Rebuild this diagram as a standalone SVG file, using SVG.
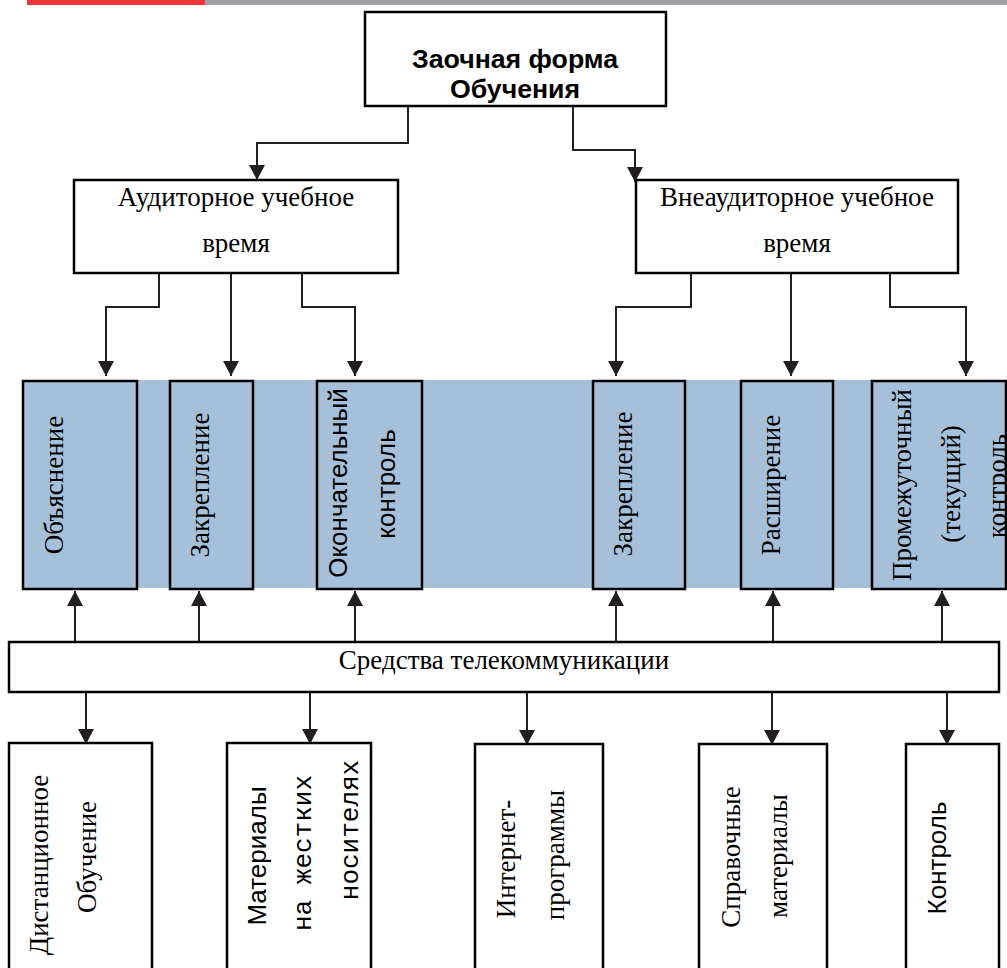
<svg xmlns="http://www.w3.org/2000/svg" width="1007" height="968" viewBox="0 0 1007 968">
<style>
.box{fill:#fff;stroke:#000;stroke-width:2.5}
.blue{fill:#a7c0da;stroke:#000;stroke-width:2.5}
.con{fill:none;stroke:#231f20;stroke-width:2}
.tnr{font-family:"Liberation Serif","Times New Roman",serif;font-size:27px;fill:#000}
.ar{font-family:"Liberation Sans",Arial,sans-serif;font-size:26px;fill:#000}
.arb{font-family:"Liberation Sans",Arial,sans-serif;font-size:26.7px;font-weight:bold;fill:#000}
.mono{font-family:"Liberation Mono","Courier New",monospace;font-size:26px;fill:#000}
</style>
<defs>
<marker id="ah" viewBox="0 0 15 16" refX="15" refY="8" markerWidth="15" markerHeight="16" markerUnits="userSpaceOnUse" orient="auto">
<path d="M0,0 L15,8 L0,16 z" fill="#231f20"/>
</marker>
</defs>
<rect x="0" y="0" width="1007" height="968" fill="#fff"/>
<rect x="205" y="0" width="802" height="5" fill="#a1a1a5"/>
<rect x="27" y="0" width="178" height="5" fill="#ef3538"/>
<rect x="23" y="380" width="984" height="208" fill="#a7c0da"/>

<g id="connectors">
<path class="con" d="M408,106 V143 H257 V180" marker-end="url(#ah)"/>
<path class="con" d="M573,106 V150 H635 V182" marker-end="url(#ah)"/>
<path class="con" d="M159,273 V307 H106 V376" marker-end="url(#ah)"/>
<path class="con" d="M231,273 V376" marker-end="url(#ah)"/>
<path class="con" d="M302,273 V307 H355 V376" marker-end="url(#ah)"/>
<path class="con" d="M691,273 V307 H616 V376" marker-end="url(#ah)"/>
<path class="con" d="M791,273 V376" marker-end="url(#ah)"/>
<path class="con" d="M890,273 V307 H966 V376" marker-end="url(#ah)"/>
<path class="con" d="M75,642 V591" marker-end="url(#ah)"/>
<path class="con" d="M199,642 V591" marker-end="url(#ah)"/>
<path class="con" d="M355,642 V591" marker-end="url(#ah)"/>
<path class="con" d="M616,642 V591" marker-end="url(#ah)"/>
<path class="con" d="M773,642 V591" marker-end="url(#ah)"/>
<path class="con" d="M942,642 V591" marker-end="url(#ah)"/>
<path class="con" d="M86,692 V744" marker-end="url(#ah)"/>
<path class="con" d="M310,692 V744" marker-end="url(#ah)"/>
<path class="con" d="M527,692 V745" marker-end="url(#ah)"/>
<path class="con" d="M772,692 V745" marker-end="url(#ah)"/>
<path class="con" d="M947,692 V745" marker-end="url(#ah)"/>
</g>

<g id="zaochnaya">
<rect class="box" x="365" y="12" width="301" height="94" stroke-width="3"/>
<text class="arb" x="515" y="68" text-anchor="middle">Заочная форма</text>
<text class="arb" x="515" y="98" text-anchor="middle">Обучения</text>
</g>

<g id="auditornoe">
<rect class="box" x="74" y="180" width="324" height="93"/>
<text class="tnr" x="236" y="206" text-anchor="middle">Аудиторное учебное</text>
<text class="tnr" x="236" y="252" text-anchor="middle">время</text>
</g>

<g id="vneauditornoe">
<rect class="box" x="636" y="180" width="322" height="93"/>
<text class="tnr" x="797" y="206" text-anchor="middle">Внеаудиторное учебное</text>
<text class="tnr" x="797" y="252" text-anchor="middle">время</text>
</g>

<g id="obyasnenie">
<rect class="blue" x="23" y="381" width="114" height="208"/>
<text class="tnr" transform="translate(63,485) rotate(-90)" text-anchor="middle">Объяснение</text>
</g>
<g id="zakreplenie1">
<rect class="blue" x="170" y="381" width="83" height="208"/>
<text class="tnr" transform="translate(209,485) rotate(-90)" text-anchor="middle">Закрепление</text>
</g>
<g id="okonchatelny">
<rect class="blue" x="317" y="381" width="105" height="208"/>
<text class="ar" transform="translate(347,483) rotate(-90)" text-anchor="middle">Окончательный</text>
<text class="ar" transform="translate(395,484) rotate(-90)" text-anchor="middle">контроль</text>
</g>
<g id="zakreplenie2">
<rect class="blue" x="593" y="381" width="92" height="208"/>
<text class="tnr" transform="translate(632,484) rotate(-90)" text-anchor="middle">Закрепление</text>
</g>
<g id="rasshirenie">
<rect class="blue" x="741" y="381" width="92" height="208"/>
<text class="tnr" transform="translate(780,485) rotate(-90)" text-anchor="middle">Расширение</text>
</g>
<g id="promezhutochny">
<rect class="blue" x="872" y="381" width="134" height="208"/>
<text class="tnr" transform="translate(911,485) rotate(-90)" text-anchor="middle">Промежуточный</text>
<text class="tnr" transform="translate(960,484) rotate(-90)" text-anchor="middle">(текущий)</text>
<text class="tnr" transform="translate(1006,486) rotate(-90)" text-anchor="middle">контроль</text>
</g>

<g id="sredstva">
<rect class="box" x="9" y="642" width="990" height="50"/>
<text class="tnr" x="504" y="669" text-anchor="middle">Средства телекоммуникации</text>
</g>

<g id="distancionnoe">
<rect class="box" x="9" y="743" width="143" height="240"/>
<text class="tnr" transform="translate(48,865) rotate(-90)" text-anchor="middle">Дистанционное</text>
<text class="tnr" transform="translate(96,857) rotate(-90)" text-anchor="middle">Обучение</text>
</g>
<g id="materialy">
<rect class="box" x="227" y="743" width="144" height="240"/>
<text class="ar" transform="translate(266,856) rotate(-90)" text-anchor="middle">Материалы</text>
<text class="mono" transform="translate(311,853) rotate(-90)" text-anchor="middle">на жестких</text>
<text class="mono" transform="translate(358,830) rotate(-90)" text-anchor="middle">носителях</text>
</g>
<g id="internet">
<rect class="box" x="475" y="744" width="128" height="240"/>
<text class="tnr" transform="translate(515,859) rotate(-90)" text-anchor="middle">Интернет-</text>
<text class="tnr" transform="translate(564,855) rotate(-90)" text-anchor="middle">программы</text>
</g>
<g id="spravochnye">
<rect class="box" x="699" y="744" width="128" height="240"/>
<text class="tnr" transform="translate(740,857) rotate(-90)" text-anchor="middle">Справочные</text>
<text class="tnr" transform="translate(787,856) rotate(-90)" text-anchor="middle">материалы</text>
</g>
<g id="kontrol">
<rect class="box" x="906" y="744" width="93" height="240"/>
<text class="ar" transform="translate(946,858) rotate(-90)" text-anchor="middle">Контроль</text>
</g>
</svg>
